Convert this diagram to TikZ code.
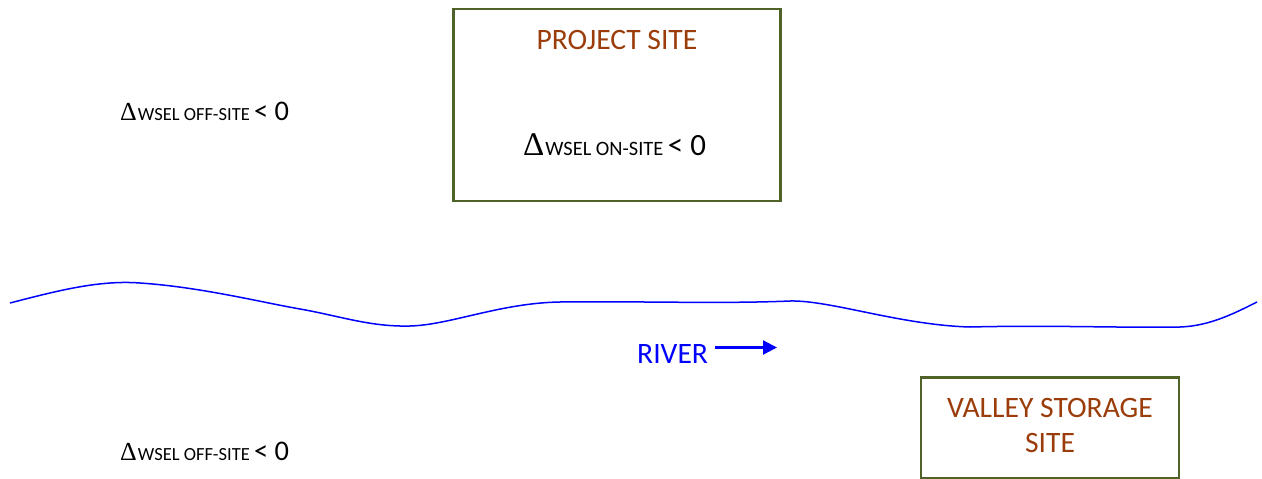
\documentclass[tikz,border=0pt]{standalone}
\usepackage{fontspec}
\setmainfont{Carlito}
\newfontfamily\deltafont{Liberation Serif}
\usetikzlibrary{arrows.meta}
\definecolor{boxgreen}{HTML}{4F6228}
\definecolor{sitebrown}{HTML}{9A3D0A}
\newcommand{\mainsz}{\fontsize{29.6}{35}\selectfont}
% #1 delta size, #2 subscript size, #3 main size, #4 subscript text
\newcommand{\dwsel}[4]{{{\fontsize{#1}{#1}\selectfont\deltafont\char"0394}\kern1pt{\fontsize{#2}{#2}\selectfont WSEL #4 }{\fontsize{#3}{#3}\selectfont <\space0}}}
\tikzset{
  sitebox/.style={draw=boxgreen, line width=2.6pt},
  sitelabel/.style={text=sitebrown, font=\mainsz, inner sep=0pt, align=center},
  deltalabel/.style={inner sep=0pt, anchor=base west},
  river/.style={draw=blue, line width=1.5pt},
}
\begin{document}
\begin{tikzpicture}[x=1pt,y=-1pt]
\useasboundingbox (0,0) rectangle (1262,479);
% boxes
\draw[sitebox] (453.5,9) rectangle (780.5,201);
\draw[sitebox] (921,377.5) rectangle (1179,478);
% labels
\node[sitelabel, anchor=base] (projlabel) at (617,49) {PROJECT SITE};
\node[sitelabel, anchor=base] (vallab1) at (1050,417) {VALLEY STORAGE};
\node[sitelabel, anchor=base] (vallab2) at (1050,452) {SITE};
\node[deltalabel] (onsite) at (523,155) {\dwsel{33}{20.4}{30.9}{ON-SITE}};
\node[deltalabel] (offtop) at (120,120) {\dwsel{26}{18.5}{28.4}{OFF-SITE}};
\node[deltalabel] (offbot) at (120,460) {\dwsel{26}{18.5}{28.4}{OFF-SITE}};
% river
\draw[river] (10,303) .. controls (60,290) and (100,280) .. (140,283)
  .. controls (200,287) and (260,302) .. (300,309)
  .. controls (340,316) and (370,327) .. (410,326)
  .. controls (450,325) and (500,303) .. (560,302)
  .. controls (640,301) and (720,304) .. (790,301)
  .. controls (830,300) and (900,325) .. (970,327)
  .. controls (1050,325) and (1120,328) .. (1180,327)
  .. controls (1210,326) and (1235,313) .. (1257,302);
\node[text=blue, font=\mainsz, inner sep=0pt, anchor=base west] (riverlab) at (637,363) {RIVER};
\coordinate (arrowend) at (777,347.5);
\draw[blue, line width=2.2pt, -{Triangle[length=14pt,width=14pt]}] ([xshift=7pt]riverlab.east |- arrowend) -- (arrowend);
\end{tikzpicture}
\end{document}
